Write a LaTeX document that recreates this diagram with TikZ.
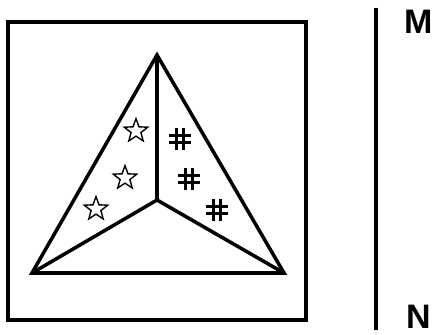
\documentclass[tikz,border=0pt]{standalone}
\usepackage{fontspec}
\setmainfont{Latin Modern Roman}
\newfontfamily\labelfont{Liberation Sans}
\usetikzlibrary{shapes.geometric}

\begin{document}
\begin{tikzpicture}[
    x=0.03cm, y=-0.03cm,
    edge/.style={line width=3pt, line join=miter},
    starmark/.style={star, star points=5, star point ratio=2.4, draw, line width=1.2pt, minimum size=0.74cm, inner sep=0pt},
    hashmark/.pic={
        \draw[line width=2.2pt] (-3.5,-11) -- (-3.5,11) (3.5,-11) -- (3.5,11)
            (-11,-3.5) -- (11,-3.5) (-11,3.5) -- (11,3.5);
    },
    letter/.style={inner sep=0pt, anchor=north west, font=\labelfont\bfseries\fontsize{29}{29}\selectfont},
]
\useasboundingbox (0,0) rectangle (434,335);

% Frame
\draw[edge] (8,22) rectangle (306,320);

% Triangle
\coordinate (apex) at (157,55);
\coordinate (bl) at (32,273);
\coordinate (br) at (284,273);
\coordinate (mid) at (157,200);
\draw[edge] (apex) -- (bl) -- (br) -- cycle;
\draw[edge] (apex) -- (mid);
\draw[edge] (bl) -- (mid) -- (br);

% Stars
\node[starmark] (s1) at (136,131) {};
\node[starmark] (s2) at (125,178) {};
\node[starmark] (s3) at (96,209) {};

% Hashes
\pic (h1) at (180,139) {hashmark};
\pic (h2) at (189,179) {hashmark};
\pic (h3) at (217,210) {hashmark};

% Axis
\coordinate (top) at (376,8);
\coordinate (bot) at (376,330);
\draw[line width=3pt] (top) -- (bot);
\node[letter] (M) at (404,10) {M};
\node[letter] (N) at (406,305) {N};

\end{tikzpicture}
\end{document}
